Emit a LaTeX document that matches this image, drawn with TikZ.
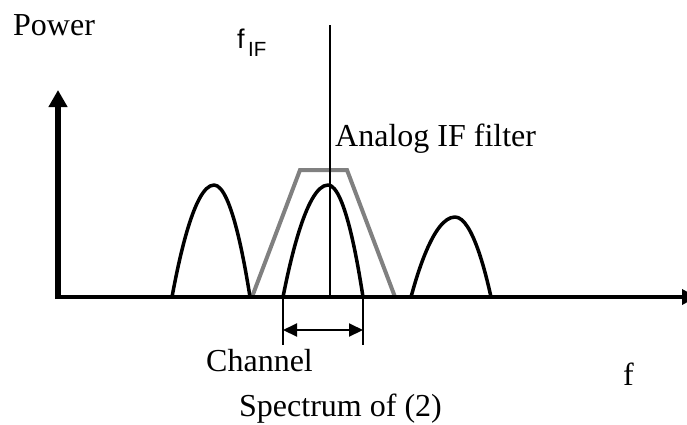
\documentclass[tikz,border=0pt]{standalone}
\usepackage{fontspec}
\setmainfont{Liberation Serif}
\newfontfamily\arialfont{Liberation Sans}
\usetikzlibrary{arrows.meta}
\definecolor{filtergray}{RGB}{128,128,128}
\begin{document}
\begin{tikzpicture}[x=1pt,y=-1pt,
  lbl/.style={anchor=base west,inner sep=0pt,font=\fontsize{32}{36}\selectfont},
  axis/.style={line width=#1,draw=black},
  hump/.style={line width=3.5pt,draw=black,line join=round},
  filt/.style={line width=4pt,draw=filtergray,line join=miter},
  marker/.style={line width=2pt,draw=black}]
\useasboundingbox (0,0) rectangle (687,424);
% coordinates
\coordinate (ytip) at (58,90);
\coordinate (xtip) at (697,297);
\coordinate (ftop) at (330,25);
\coordinate (fbot) at (330,297);
\coordinate (cl0) at (283,297);
\coordinate (cl1) at (283,345);
\coordinate (cr0) at (363,297);
\coordinate (cr1) at (363,345);
\coordinate (al) at (283,330);
\coordinate (ar) at (363,330);
% filter
\draw[filt] (252,297) -- (300,170) -- (347,170) -- (395,297);
% humps
\draw[hump] (172,297) parabola bend (214,185) (250,297);
\draw[hump] (283,297) parabola bend (328,185) (363,297);
\draw[hump] (411,297) parabola bend (455,217) (491,297);
% IF line
\draw[line width=1.6pt] (ftop) -- (fbot);
% axes
\draw[axis=5.5pt,-{Triangle[length=17pt,width=18pt]}] (58,299) -- (ytip);
\draw[axis=3.5pt,-{Triangle[length=15pt,width=15pt]}] (56,297) -- (xtip);
% channel markers
\draw[marker] (cl0) -- (cl1);
\draw[marker] (cr0) -- (cr1);
\draw[line width=2pt,{Triangle[length=14pt,width=13pt]}-{Triangle[length=14pt,width=13pt]}] (al) -- (ar);
% labels
\node[lbl] (power) at (13,35) {Power};
\node[anchor=base west,inner sep=0pt,font=\arialfont\fontsize{27}{30}\selectfont] (fif) at (237,48.3) {f};
\node[anchor=base west,inner sep=0pt,font=\arialfont\fontsize{20.5}{24}\selectfont] (fifsub) at (248,56) {IF};
\node[lbl] (analog) at (335,146.5) {Analog IF filter};
\node[lbl] (channel) at (206,371.5) {Channel};
\node[lbl] (fl) at (623,385) {f};
\node[lbl] (spec) at (239,416) {Spectrum of (2)};
\end{tikzpicture}
\end{document}
